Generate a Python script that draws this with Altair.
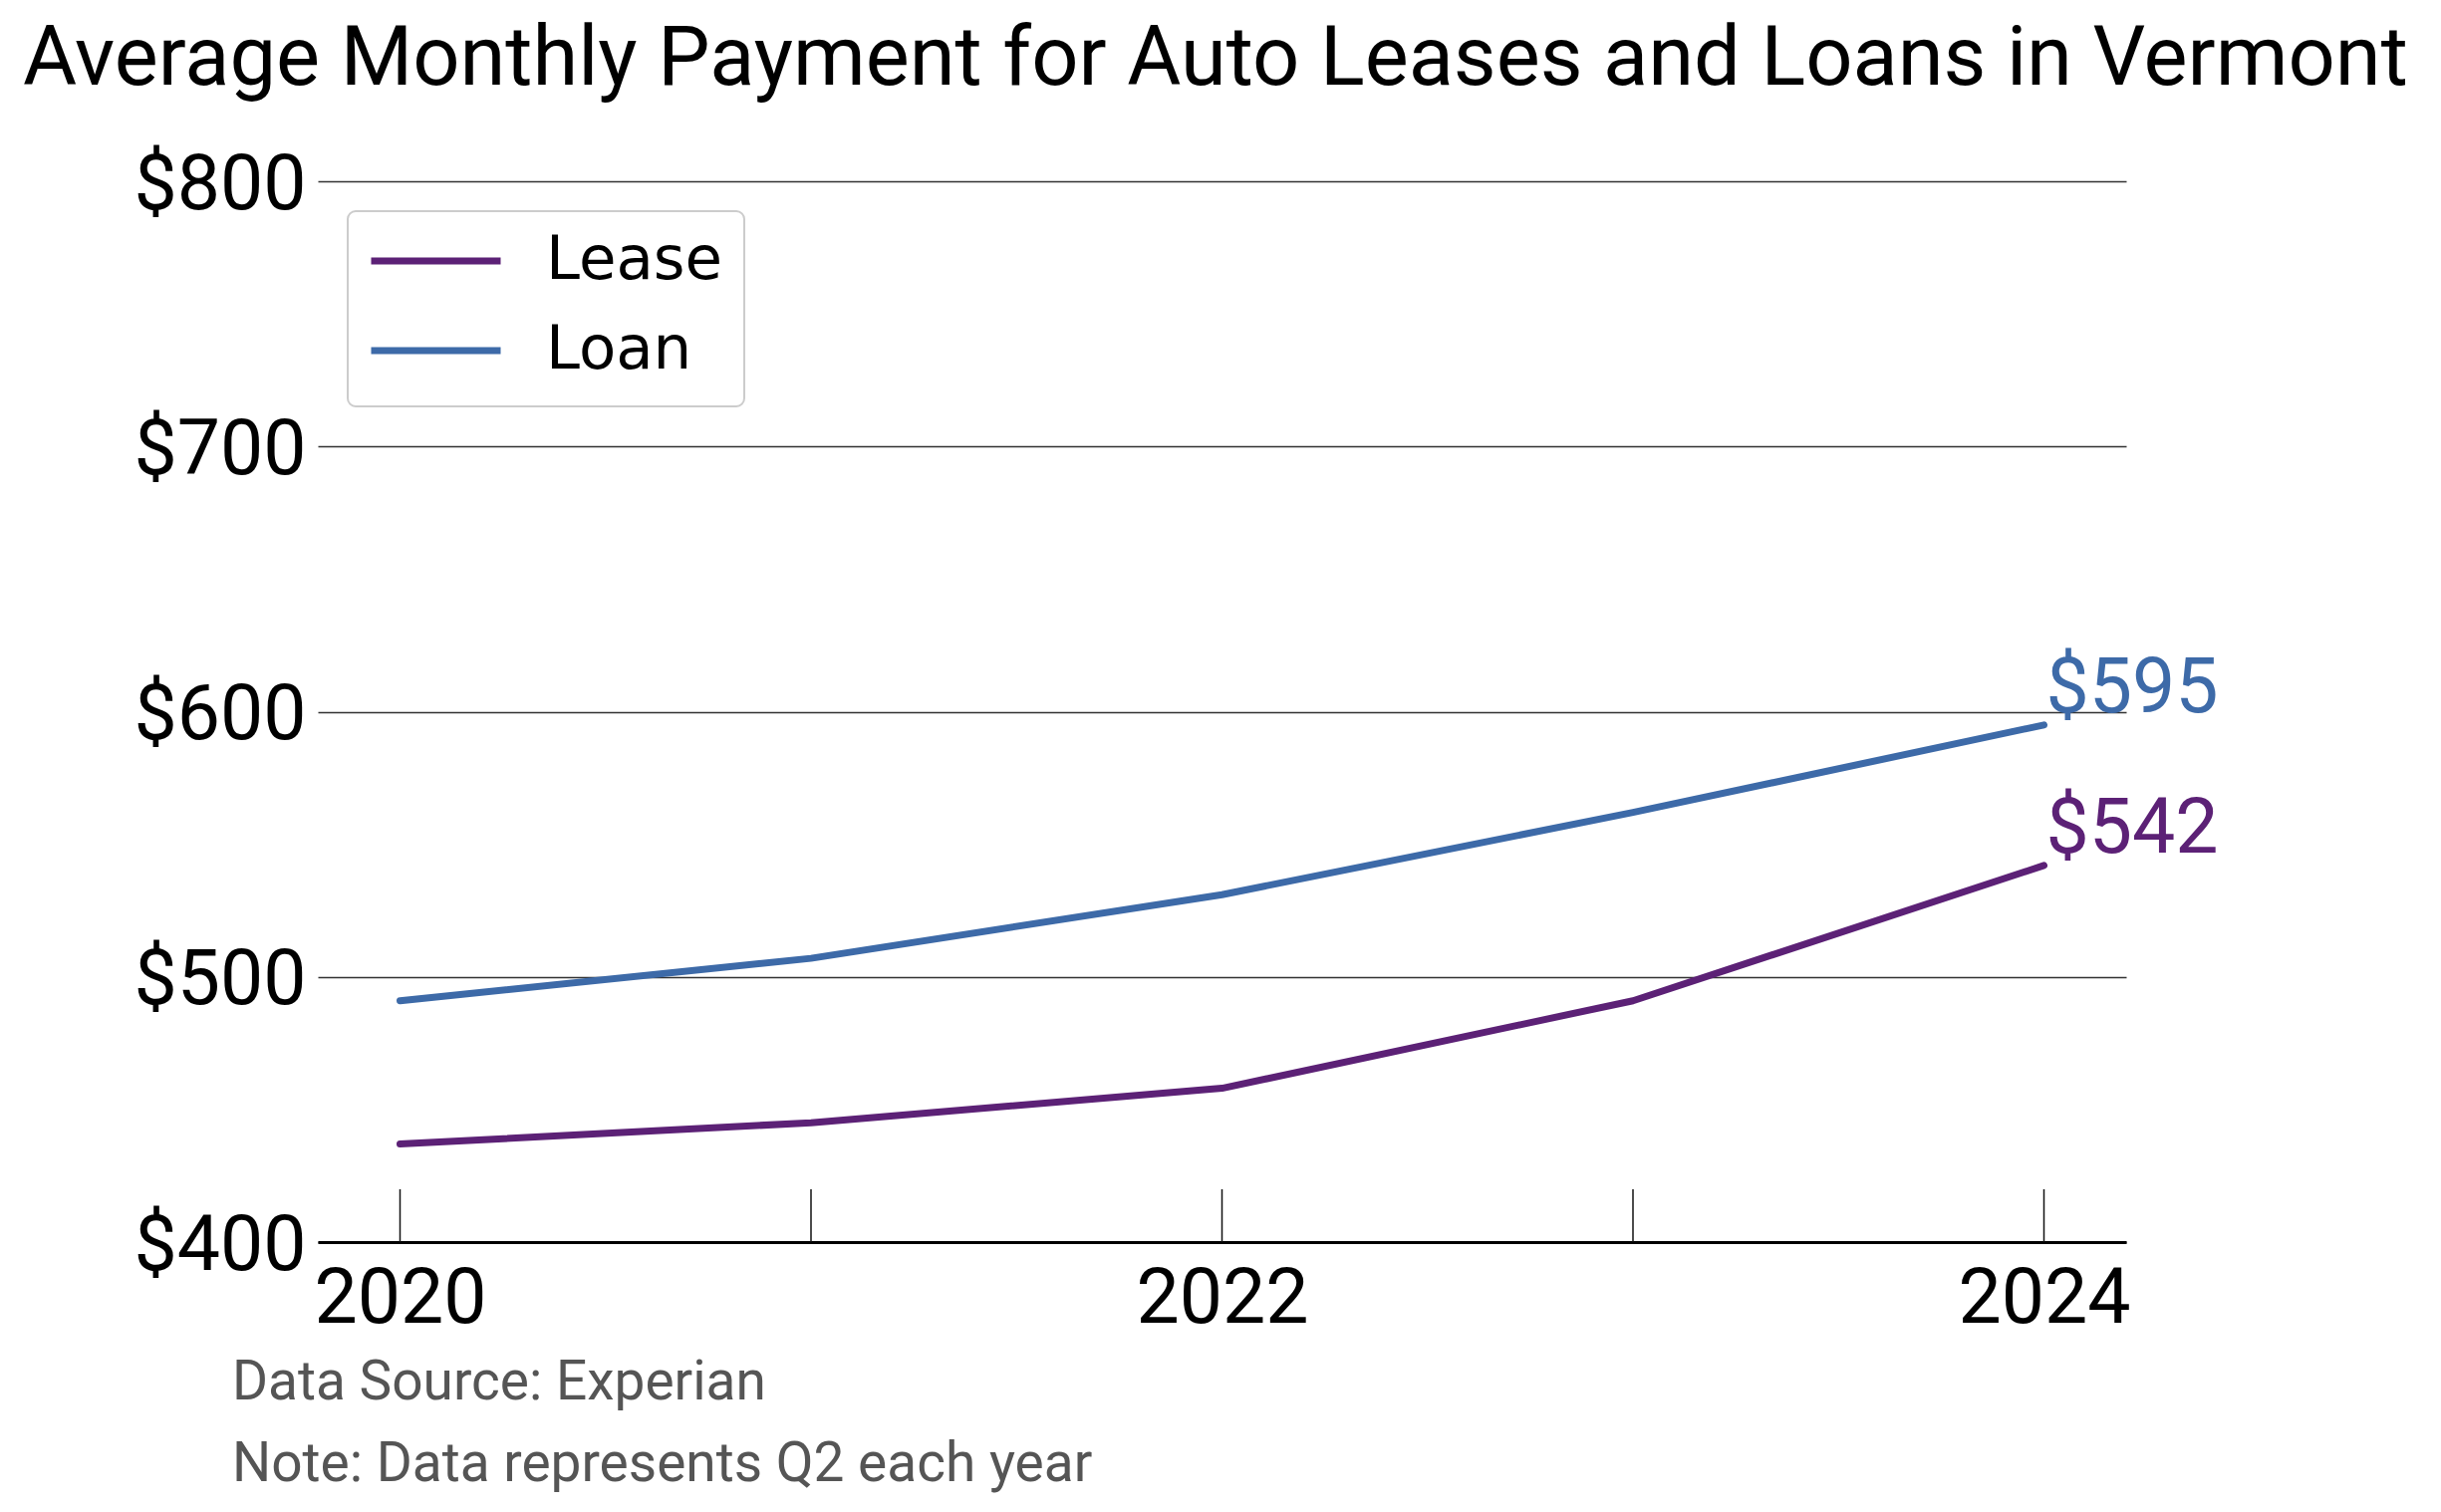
import altair as alt
import pandas as pd

# ---- data ----
years = [2020, 2021, 2022, 2023, 2024]
lease = [437, 445, 458, 491, 542]
loan = [491, 507, 531, 562, 595]
series_names = ["Lease", "Loan"]
series_colors = ["#5c2176", "#3d6aa8"]
y_ticks = [400, 500, 600, 700, 800]
x_labels = [2020, 2022, 2024]
title_text = "Average Monthly Payment for Auto Leases and Loans in Vermont"
notes = ["Data Source: Experian", "Note: Data represents Q2 each year"]

df = pd.DataFrame({
    "year": years * 2,
    "value": lease + loan,
    "series": ["Lease"] * len(years) + ["Loan"] * len(years),
})
tick_df = pd.DataFrame({"year": years})

W, H = 1815, 1065

x_scale = alt.Scale(domain=[2019.8, 2024.2], nice=False, zero=False)
y_scale = alt.Scale(domain=[400, 800], nice=False, zero=False)
color_scale = alt.Scale(domain=series_names, range=series_colors)

x_enc = alt.X(
    "year:Q", scale=x_scale, title=None,
    axis=alt.Axis(values=x_labels, format="d", grid=False, ticks=False,
                  domain=True, domainColor="black", domainWidth=3,
                  labelFont="Roboto", labelFontSize=77, labelColor="black",
                  labelPadding=19, labelFlush=False),
)
y_enc = alt.Y(
    "value:Q", scale=y_scale, title=None,
    axis=alt.Axis(values=y_ticks, format="$d", grid=True, gridColor="#333333",
                  gridWidth=1.5, ticks=False, domain=False,
                  labelFont="Roboto", labelFontSize=77, labelColor="black",
                  labelPadding=12, labelBaseline="alphabetic", labelOffset=27),
)

base = alt.Chart(df)

lines = base.mark_line(strokeWidth=7, strokeCap="round", strokeJoin="round").encode(
    x=x_enc,
    y=y_enc,
    color=alt.Color(
        "series:N", scale=color_scale,
        legend=alt.Legend(
            title=None, orient="none", legendX=50, legendY=45,
            symbolType="stroke", symbolSize=16900, symbolStrokeWidth=7,
            clipHeight=70, rowPadding=20, padding=0,
            labelFont="DejaVu Sans", labelFontSize=61, labelColor="black",
            labelOffset=42, labelLimit=600,
        ),
    ),
)

end_labels = base.mark_text(
    align="left", baseline="alphabetic", dx=2, dy=-13,
    font="Roboto", fontSize=77,
).encode(
    x="year:Q",
    y="value:Q",
    text=alt.Text("value:Q", format="$d"),
    color=alt.Color("series:N", scale=color_scale, legend=None),
).transform_filter(alt.datum.year == max(years))

ticks = alt.Chart(tick_df).mark_rule(color="#111111", strokeWidth=1.5).encode(
    x="year:Q",
    y=alt.value(H - 53),
    y2=alt.value(H),
)

legend_box = alt.Chart(alt.Data(values=[{}])).mark_rect(
    fill="white", stroke="#cccccc", strokeWidth=2, cornerRadius=8,
).encode(
    x=alt.value(30), x2=alt.value(428), y=alt.value(30), y2=alt.value(226),
)

note1 = alt.Chart(alt.Data(values=[{}])).mark_text(
    align="left", baseline="alphabetic", font="Roboto", fontSize=55, color="#555555",
).encode(x=alt.value(-86), y=alt.value(1223), text=alt.value(notes[0]))

note2 = alt.Chart(alt.Data(values=[{}])).mark_text(
    align="left", baseline="alphabetic", font="Roboto", fontSize=55, color="#555555",
).encode(x=alt.value(-86), y=alt.value(1305), text=alt.value(notes[1]))

chart = alt.layer(legend_box, ticks, lines, end_labels, note1, note2).properties(
    width=W, height=H,
    autosize=alt.AutoSizeParams(type="none"),
    padding={"left": 311, "top": 174, "right": 306, "bottom": 255},
    title=alt.TitleParams(
        title_text, font="Roboto", fontSize=83, fontWeight="normal", color="black",
        anchor="start", frame="group", dx=-296, dy=41, baseline="alphabetic", offset=20,
    ),
).configure(
    background="white",
    view=alt.ViewConfig(strokeWidth=0, stroke="transparent"),
)

chart.save("out.html", embed_options={"renderer": "svg", "actions": False})
